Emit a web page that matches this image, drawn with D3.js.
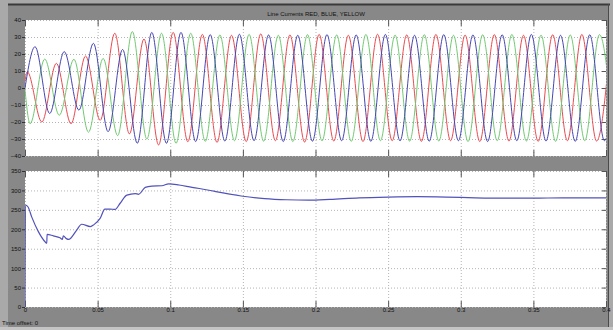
<!DOCTYPE html>
<html>
<head>
<meta charset="utf-8">
<script src="https://cdn.jsdelivr.net/npm/d3@7"></script>
<style>
  body { margin: 0; background: #a9a9a9; }
  svg { display: block; font-family: "Liberation Sans", Arial, sans-serif; }
</style>
</head>
<body>
<svg id="chart" width="613" height="330"></svg>
<script>
// tick values / labels
const timeTicks = [0, 0.05, 0.1, 0.15, 0.2, 0.25, 0.3, 0.35, 0.4];
const timeTickLabels = ['0', '0.05', '0.1', '0.15', '0.2', '0.25', '0.3', '0.35', '0.4'];
const currentTicks = [40, 30, 20, 10, 0, -10, -20, -30, -40];
const voltageTicks = [350, 300, 250, 200, 150, 100, 50, 0];

// line currents: [time (s), current] at the start and at each peak / trough
const redCurrent = [
  [0, 4], [0.0015, 9.6], [0.0116, -20], [0.0216, 14.5], [0.0317, -21], [0.0417, 18.8],
  [0.0518, -19], [0.0618, 32.2], [0.0719, -27], [0.0819, 28.8], [0.092, -33.5], [0.102, 32.7],
  [0.1121, -31.6], [0.1221, 31.5], [0.1322, -32], [0.1422, 31], [0.1523, -31.5], [0.1623, 31.8],
  [0.1724, -31], [0.1824, 31.2], [0.1925, -31.8], [0.2025, 31.5], [0.2126, -31.2], [0.2226, 31],
  [0.2327, -31.5], [0.2427, 31.6], [0.2528, -31], [0.2628, 31.2], [0.2729, -31.4], [0.2829, 31.5],
  [0.293, -31], [0.303, 31.1], [0.3131, -31.5], [0.3231, 31.4], [0.3332, -31.2], [0.3432, 31],
  [0.3533, -31.4], [0.3633, 31.3], [0.3734, -31], [0.3834, 31.5], [0.3935, -31.2], [0.4035, 31]
];
const blueCurrent = [
  [0, 0], [0.0069, 24.3], [0.017, -15], [0.027, 21.4], [0.0371, -13], [0.0471, 26.3],
  [0.0572, -25.7], [0.0672, 22.7], [0.0773, -32.5], [0.0873, 32.7], [0.0974, -32.5], [0.1074, 32.7],
  [0.1175, -31.5], [0.1275, 31.4], [0.1376, -31.2], [0.1476, 31.6], [0.1577, -31], [0.1677, 31.2],
  [0.1778, -31.5], [0.1878, 31], [0.1979, -31.3], [0.2079, 31.4], [0.218, -31], [0.228, 31.2],
  [0.2381, -31.4], [0.2481, 31.5], [0.2582, -31.1], [0.2682, 31], [0.2783, -31.3], [0.2883, 31.4],
  [0.2984, -31], [0.3084, 31.2], [0.3185, -31.5], [0.3285, 31.3], [0.3386, -31], [0.3486, 31.5],
  [0.3587, -31.2], [0.3687, 31], [0.3788, -31.4], [0.3888, 31.3], [0.3989, -31], [0.4089, 31]
];
const greenCurrent = [
  [0, -1], [0.0035, -21], [0.0136, 17], [0.0236, -16], [0.0337, 16.9], [0.0437, -26],
  [0.0538, 17.4], [0.0638, -28], [0.0739, 33.2], [0.0839, -30], [0.094, 32.2], [0.104, -32.5],
  [0.1141, 32.2], [0.1241, -31.4], [0.1342, 31.2], [0.1442, -31], [0.1543, 31.5], [0.1643, -31.3],
  [0.1744, 31], [0.1844, -31.5], [0.1945, 31.4], [0.2045, -31.1], [0.2146, 31.2], [0.2246, -31.4],
  [0.2347, 31.5], [0.2447, -31], [0.2548, 31.1], [0.2648, -31.3], [0.2749, 31.4], [0.2849, -31.2],
  [0.295, 31], [0.305, -31.5], [0.3151, 31.3], [0.3251, -31], [0.3352, 31.5], [0.3452, -31.2],
  [0.3553, 31.1], [0.3653, -31.4], [0.3754, 31.2], [0.3854, -31], [0.3955, 31.4], [0.4055, -31]
];

// lower trace: [time (s), value]
const dcVoltage = [
  [0, 0], [0.0003, 262], [0.002, 258], [0.0046, 232], [0.0092, 194], [0.0138, 168], [0.015, 164],
  [0.0152, 187], [0.0195, 183], [0.0241, 178], [0.0257, 174], [0.0264, 183], [0.0285, 176],
  [0.03, 174], [0.0356, 198], [0.039, 213], [0.045, 207], [0.0475, 212], [0.0517, 228],
  [0.055, 252], [0.0586, 252], [0.062, 251], [0.0655, 267], [0.0701, 288], [0.0759, 292],
  [0.0782, 290], [0.0828, 308], [0.0874, 311], [0.0943, 312], [0.0989, 317], [0.106, 314],
  [0.115, 308], [0.12, 305], [0.13, 298], [0.14, 291], [0.15, 285], [0.165, 279], [0.18, 276],
  [0.195, 275], [0.21, 277], [0.23, 281], [0.25, 283], [0.27, 284], [0.29, 283], [0.31, 281],
  [0.33, 280], [0.35, 280], [0.37, 281], [0.39, 281], [0.4, 281]
];

const svg = d3.select('#chart');
const W = 613, H = 330;
const left = 25, right = 606;

// scope window background
svg.append('rect').attr('width', W).attr('height', H).attr('fill', '#a9a9a9');
svg.append('rect').attr('x', 8).attr('y', 4).attr('width', 601).attr('height', 323).attr('fill', '#888888');
svg.append('line').attr('x1', 8).attr('x2', 610).attr('y1', 4.5).attr('y2', 4.5)
  .attr('stroke', '#3a3a3a').attr('stroke-width', 2);
svg.append('line').attr('x1', 608.5).attr('x2', 608.5).attr('y1', 4).attr('y2', 327)
  .attr('stroke', '#4a4a4a').attr('stroke-width', 1);
svg.append('rect').attr('x', 0).attr('y', 327).attr('width', W).attr('height', 3).attr('fill', '#c4c4c4');

svg.append('text').attr('x', 316).attr('y', 16).attr('text-anchor', 'middle')
  .attr('font-size', 6).attr('fill', '#111').text('Line Currents RED, BLUE, YELLOW');
svg.append('text').attr('x', 2).attr('y', 325).attr('font-size', 6).attr('fill', '#111').text('Time offset:  0');

const x = d3.scaleLinear().domain([0, 0.4]).range([left, right]);

function panel(id, y0, y1, yDomain, yTicks, showTimeLabels) {
  const y = d3.scaleLinear().domain(yDomain).range([y1, y0]);
  const g = svg.append('g');

  g.append('clipPath').attr('id', id)
    .append('rect').attr('x', left).attr('y', y0).attr('width', right - left).attr('height', y1 - y0);

  g.append('rect').attr('x', left).attr('y', y0).attr('width', right - left).attr('height', y1 - y0)
    .attr('fill', '#fff');

  // dotted grid
  g.append('g').attr('transform', `translate(0,${y1})`)
    .call(d3.axisBottom(x).tickValues(timeTicks).tickSize(-(y1 - y0)).tickFormat(''))
    .call(a => a.select('.domain').remove())
    .call(a => a.selectAll('line').attr('stroke', '#b4b4b4').attr('stroke-dasharray', '1,2'));
  g.append('g').attr('transform', `translate(${left},0)`)
    .call(d3.axisLeft(y).tickValues(yTicks).tickSize(-(right - left)).tickFormat(''))
    .call(a => a.select('.domain').remove())
    .call(a => a.selectAll('line').attr('stroke', '#b4b4b4').attr('stroke-dasharray', '1,2'));

  // small inward ticks on every side
  const noDomain = a => a.select('.domain').remove();
  g.append('g').attr('transform', `translate(0,${y0})`)
    .call(d3.axisTop(x).tickValues(timeTicks).tickSize(-6).tickFormat('')).call(noDomain)
    .call(a => a.selectAll('line').attr('stroke', '#555'));
  g.append('g').attr('transform', `translate(0,${y1})`)
    .call(d3.axisBottom(x).tickValues(timeTicks).tickSize(-6).tickFormat('')).call(noDomain)
    .call(a => a.selectAll('line').attr('stroke', '#555'));
  g.append('g').attr('transform', `translate(${right},0)`)
    .call(d3.axisRight(y).tickValues(yTicks).tickSize(-4).tickFormat('')).call(noDomain)
    .call(a => a.selectAll('line').attr('stroke', '#555'));

  // y labels
  g.append('g').attr('transform', `translate(${left},0)`)
    .call(d3.axisLeft(y).tickValues(yTicks).tickSize(3).tickPadding(1))
    .call(noDomain)
    .call(a => a.selectAll('line').attr('stroke', '#333'))
    .call(a => a.selectAll('text').attr('font-size', 6).attr('fill', '#111').attr('font-family', null));

  if (showTimeLabels) {
    g.append('g').attr('transform', `translate(0,${y1})`)
      .call(d3.axisBottom(x).tickValues(timeTicks).tickSize(0).tickPadding(1)
        .tickFormat((d, i) => timeTickLabels[i]))
      .call(noDomain)
      .call(a => a.selectAll('text').attr('font-size', 6).attr('fill', '#111').attr('font-family', null));
  }

  const plot = g.append('g').attr('clip-path', `url(#${id})`);
  return { y, plot };
}

const upper = panel('clipTop', 20, 156, [-40, 40], currentTicks, false);
const lower = panel('clipBot', 171, 307, [0, 350], voltageTicks, true);

const curLine = d3.line().x(d => x(d[0])).y(d => upper.y(d[1])).curve(d3.curveMonotoneX);
[[redCurrent, '#ea4a4f'], [greenCurrent, '#72ca72'], [blueCurrent, '#4646b4']].forEach(([data, col]) => {
  upper.plot.append('path').datum(data)
    .attr('fill', 'none').attr('stroke', col).attr('stroke-width', 1).attr('d', curLine);
});

lower.plot.append('path').datum(dcVoltage)
  .attr('fill', 'none').attr('stroke', '#5252bc').attr('stroke-width', 1.2)
  .attr('d', d3.line().x(d => x(d[0])).y(d => lower.y(d[1])).curve(d3.curveMonotoneX));
</script>
</body>
</html>
